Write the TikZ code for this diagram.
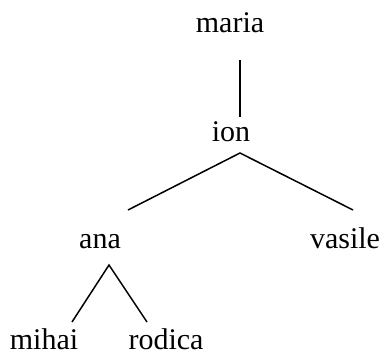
\documentclass[tikz,border=0pt]{standalone}
\usepackage{fontspec}
\setmainfont{Liberation Serif}
\usetikzlibrary{calc}
\tikzset{person/.style={anchor=base, inner sep=0pt, text depth=0pt, font=\fontsize{30}{36}\selectfont}}
\tikzset{edge/.style={line width=1.5pt}}

\begin{document}
\begin{tikzpicture}[x=1pt,y=-1pt]
  \useasboundingbox (0,0) rectangle (384,356);

  \node[person] (maria)  at (230,32)  {maria};
  \node[person] (ion)    at (231,141) {ion};
  \node[person] (ana)    at (100,248) {ana};
  \node[person] (vasile) at (345,248) {vasile};
  \node[person] (mihai)  at (44,349)  {mihai};
  \node[person] (rodica) at (166,349) {rodica};

  \draw[edge] ($(maria.base)+(10,28)$) -- ($(ion.base)+(9,-24)$);

  \draw[edge] ($(ana.base)+(28,-38)$) -- ($(ion.base)+(9,12)$)
              -- ($(vasile.base)+(8,-38)$);

  \draw[edge] ($(mihai.base)+(28,-27)$) -- ($(ana.base)+(9,17)$)
              -- ($(rodica.base)+(-19,-27)$);

\end{tikzpicture}
\end{document}
